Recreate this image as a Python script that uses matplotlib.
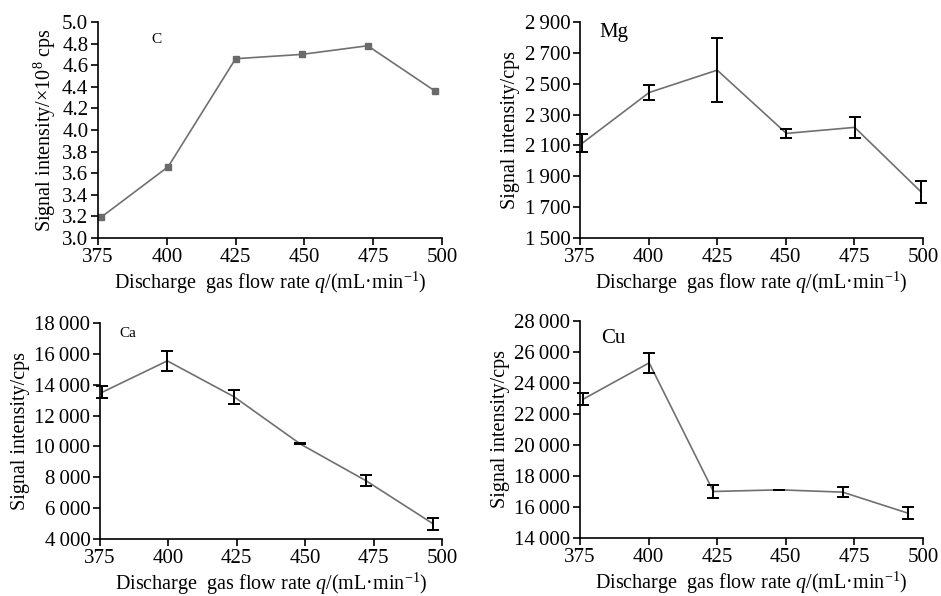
import matplotlib
matplotlib.use('Agg')
import matplotlib.pyplot as plt
from matplotlib.ticker import FuncFormatter

plt.rcParams['font.family'] = ['Liberation Serif', 'DejaVu Serif']
plt.rcParams['mathtext.fontset'] = 'custom'
plt.rcParams['mathtext.rm'] = 'Liberation Serif'
plt.rcParams['mathtext.it'] = 'Liberation Serif:italic'

# data
c_x = [376, 400.5, 425, 449, 473, 497.5]
c_y = [3.19, 3.66, 4.66, 4.70, 4.78, 4.36]

mg_x = [375.8, 400.2, 425, 450.2, 475.1, 499.4]
mg_y = [2114, 2443, 2588, 2178, 2217, 1797]
mg_err = [57, 50, 208, 29, 67, 70]

ca_x = [375.9, 399.6, 424.0, 448.2, 472.3, 496.7]
ca_y = [13520, 15545, 13218, 10160, 7769, 4991]
ca_err = [390, 670, 450, 30, 350, 400]

cu_x = [376.2, 400.2, 423.6, 447.7, 470.7, 494.4]
cu_y = [22962, 25299, 17001, 17108, 16959, 15608]
cu_err = [400, 660, 430, 20, 300, 390]

x_ticks = [375, 400, 425, 450, 475, 500]
c_ticks = [3.0, 3.2, 3.4, 3.6, 3.8, 4.0, 4.2, 4.4, 4.6, 4.8, 5.0]
mg_ticks = [1500, 1700, 1900, 2100, 2300, 2500, 2700, 2900]
ca_ticks = [4000, 6000, 8000, 10000, 12000, 14000, 16000, 18000]
cu_ticks = [14000, 16000, 18000, 20000, 22000, 24000, 26000, 28000]

xlabel = 'Discharge  gas flow rate $q$/(mL·min$^{\\mathrm{-1}}$)'

line_col = '#707070'
fs = 15
lfs = 14.5


def thousands(v, pos):
    s = f'{int(round(v)):d}'
    if len(s) > 3:
        s = s[:-3] + '\u2009' + s[-3:]
    return s


def style(ax, yticks, ylabel, fmt):
    ax.set_xlim(375, 500)
    ax.set_xticks(x_ticks)
    ax.set_ylim(yticks[0], yticks[-1])
    ax.set_yticks(yticks)
    ax.yaxis.set_major_formatter(fmt)
    ax.spines['top'].set_visible(False)
    ax.spines['right'].set_visible(False)
    for s in ('left', 'bottom'):
        ax.spines[s].set_linewidth(1.2)
    ax.tick_params(direction='out', length=5, width=1.2, labelsize=fs, pad=2)
    ax.set_xlabel(xlabel, fontsize=lfs, labelpad=2)
    ax.set_ylabel(ylabel, fontsize=lfs, labelpad=3)


fig = plt.figure(figsize=(9.41, 5.96), dpi=100)
W, H = 941, 596


def add_axes(l, r, t, b):
    return fig.add_axes([l / W, 1 - b / H, (r - l) / W, (b - t) / H])


def with_errors(ax, x, y, err):
    ax.plot(x, y, color=line_col, lw=1.2, clip_on=False)
    ax.errorbar(x, y, yerr=err, fmt='none', ecolor='black',
                elinewidth=1.4, capsize=4, capthick=1.4, clip_on=False)


# C
ax1 = add_axes(98, 442, 22, 238)
ax1.plot(c_x, c_y, color=line_col, lw=1.2, marker='s', ms=5,
         mfc='#6a6a6a', mec='#6a6a6a', clip_on=False)
style(ax1, c_ticks, 'Signal intensity/×10$^{8}$ cps',
      FuncFormatter(lambda v, p: f'{v:.1f}'))
ax1.text(0.17, 0.917, 'C', transform=ax1.transAxes, fontsize=11,
         ha='center', va='center')

# Mg
ax2 = add_axes(580, 923, 22, 238)
with_errors(ax2, mg_x, mg_y, mg_err)
style(ax2, mg_ticks, 'Signal intensity/cps', FuncFormatter(thousands))
ax2.text(0.10, 0.95, 'Mg', transform=ax2.transAxes, fontsize=fs,
         ha='center', va='center')

# Ca
ax3 = add_axes(100, 442, 323, 539)
with_errors(ax3, ca_x, ca_y, ca_err)
style(ax3, ca_ticks, 'Signal intensity/cps', FuncFormatter(thousands))
ax3.text(0.08, 0.95, 'Ca', transform=ax3.transAxes, fontsize=11,
         ha='center', va='center')

# Cu
ax4 = add_axes(580, 923, 321, 538)
with_errors(ax4, cu_x, cu_y, cu_err)
style(ax4, cu_ticks, 'Signal intensity/cps', FuncFormatter(thousands))
ax4.text(0.096, 0.92, 'Cu', transform=ax4.transAxes, fontsize=fs,
         ha='center', va='center')

fig.savefig('out.png', dpi=100)
